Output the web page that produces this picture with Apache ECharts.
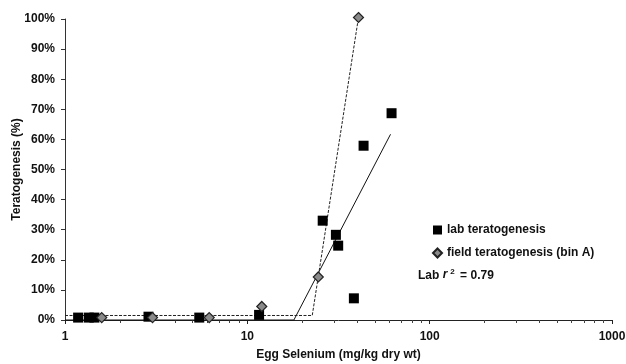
<!DOCTYPE html>
<html>
<head>
<meta charset="utf-8">
<script src="https://cdn.jsdelivr.net/npm/echarts@6/dist/echarts.min.js"></script>
<style>
html,body{margin:0;padding:0;background:#fff;}
#c{width:626px;height:364px;}
</style>
</head>
<body>
<div id="c"></div>
<script>
// Lab teratogenesis (squares)
const labX = [1.18, 1.35, 1.45, 2.87, 5.45, 11.6, 25.9, 30.6, 31.5, 38.4, 43.4, 61.8];
const labY = [0.8, 0.8, 0.8, 1.1, 0.8, 1.7, 33.0, 28.3, 24.7, 7.2, 57.9, 68.7];
// Field teratogenesis bin A (diamonds)
const fieldX = [1.59, 3.02, 6.18, 12.0, 24.5, 40.7];
const fieldY = [0.8, 0.8, 0.8, 4.5, 14.3, 100.5];
// Hockey-stick fits
const labFitX = [1, 18, 61];
const labFitY = [0, 0, 61.7];
const fieldFitX = [1, 22.7, 40.7];
const fieldFitY = [1.5, 1.5, 100.5];
// Axis ticks
const xMajorTicks = [1, 10, 100, 1000];
const xMinorTicks = [2,3,4,5,6,7,8,9,20,30,40,50,60,70,80,90,200,300,400,500,600,700,800,900];
const yTicks = [0,10,20,30,40,50,60,70,80,90,100];

const zip = (a, b) => a.map((v, i) => [v, b[i]]);
const FONT = '"Liberation Sans", Arial, sans-serif';
const INK = '#111';

const chart = echarts.init(document.getElementById('c'), null, {renderer: 'canvas'});
chart.setOption({
  animation: false,
  backgroundColor: '#fff',
  grid: {left: 65, right: 14, top: 19, bottom: 44, containLabel: false, outerBoundsMode: 'none'},
  xAxis: [{
    type: 'log', logBase: 10, min: 1, max: 1000,
    name: 'Egg Selenium (mg/kg dry wt)', nameLocation: 'middle', nameGap: 29, nameMoveOverlap: false,
    nameTextStyle: {fontFamily: FONT, fontWeight: 'bold', fontSize: 12, color: INK},
    axisLine: {lineStyle: {color: '#222', width: 1}},
    axisTick: {show: true, length: 4, lineStyle: {color: '#222'}, customValues: xMajorTicks},
    axisLabel: {fontFamily: FONT, fontWeight: 'bold', fontSize: 12, color: INK, margin: 11,
      customValues: xMajorTicks, formatter: v => String(Math.round(v))},
    splitLine: {show: false}
  }, {
    type: 'log', logBase: 10, min: 1, max: 1000, position: 'bottom',
    axisLine: {show: false},
    axisTick: {show: true, length: 3, lineStyle: {color: '#444'}, customValues: xMinorTicks},
    axisLabel: {show: false},
    splitLine: {show: false}
  }],
  yAxis: {
    type: 'value', min: 0, max: 100, interval: 10,
    name: 'Teratogenesis (%)', nameLocation: 'middle', nameGap: 42, nameMoveOverlap: false,
    nameTextStyle: {fontFamily: FONT, fontWeight: 'bold', fontSize: 12, color: INK},
    axisLine: {show: true, lineStyle: {color: '#333', width: 1}},
    axisTick: {show: true, length: 4, lineStyle: {color: '#333'}},
    axisLabel: {fontFamily: FONT, fontWeight: 'bold', fontSize: 12, color: INK, margin: 10, formatter: v => v + '%'},
    splitLine: {show: false}
  },
  legend: {
    orient: 'vertical', left: 432, top: 224, itemGap: 11, padding: 0,
    itemWidth: 9, itemHeight: 9,
    data: ['lab teratogenesis', 'field teratogenesis (bin A)'],
    textStyle: {fontFamily: FONT, fontWeight: 'bold', fontSize: 12, color: INK}
  },
  graphic: [{
    type: 'text', left: 418, top: 268,
    style: {
      text: '{a|Lab }{i|r}{s|2}{a| = 0.79}',
      rich: {
        a: {fontFamily: FONT, fontWeight: 'bold', fontSize: 12, fill: INK, verticalAlign: 'bottom'},
        i: {fontFamily: FONT, fontWeight: 'bold', fontStyle: 'italic', fontSize: 12, fill: INK, padding: [0, 3, 0, 0]},
        s: {fontFamily: FONT, fontWeight: 'bold', fontSize: 8, fill: INK, verticalAlign: 'top', padding: [0, 2, 6, 0]}
      }
    }
  }],
  series: [{
    name: 'lab fit', type: 'line', data: zip(labFitX, labFitY),
    showSymbol: false, symbol: 'none', silent: true, clip: false,
    lineStyle: {color: '#111', width: 1}, z: 1
  }, {
    name: 'field fit', type: 'line', data: zip(fieldFitX, fieldFitY),
    showSymbol: false, symbol: 'none', silent: true, clip: false,
    lineStyle: {color: '#222', width: 1, type: [3, 1.5]}, z: 1
  }, {
    name: 'lab teratogenesis', type: 'scatter', data: zip(labX, labY),
    symbol: 'rect', symbolSize: 10, clip: false,
    itemStyle: {color: '#000', opacity: 1}, z: 3
  }, {
    name: 'field teratogenesis (bin A)', type: 'scatter', data: zip(fieldX, fieldY),
    symbol: 'diamond', symbolSize: 10, clip: false,
    itemStyle: {color: '#8a8a8a', borderColor: '#222', borderWidth: 1.2, opacity: 1}, z: 4
  }]
});
</script>
</body>
</html>
